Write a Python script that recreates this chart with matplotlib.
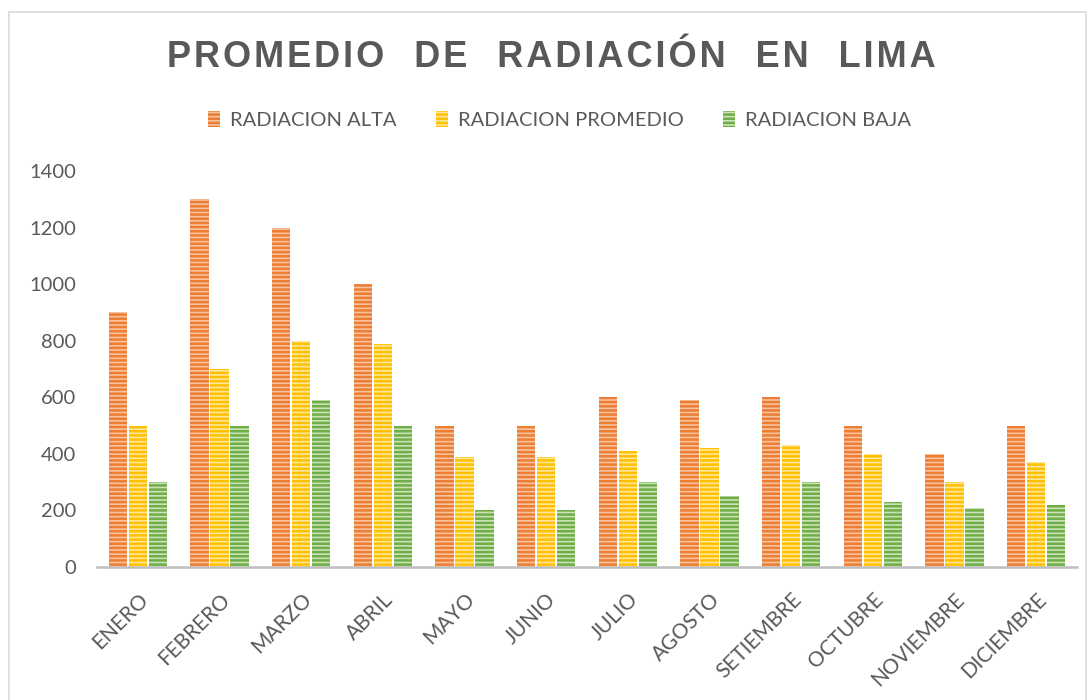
import numpy as np
import matplotlib
matplotlib.use("Agg")
import matplotlib.pyplot as plt
from matplotlib.patches import Patch, Rectangle

# datos
meses = ["ENERO", "FEBRERO", "MARZO", "ABRIL", "MAYO", "JUNIO", "JULIO",
         "AGOSTO", "SETIEMBRE", "OCTUBRE", "NOVIEMBRE", "DICIEMBRE"]
rad_alta = [900, 1300, 1200, 1000, 500, 500, 600, 590, 600, 500, 400, 500]
rad_promedio = [500, 700, 800, 790, 390, 390, 410, 420, 430, 400, 300, 370]
rad_baja = [300, 500, 590, 500, 200, 200, 300, 250, 300, 230, 210, 220]
series = ["RADIACION ALTA", "RADIACION PROMEDIO", "RADIACION BAJA"]

gris = "#595959"
plt.rcParams["hatch.linewidth"] = 1.8

fig = plt.figure(figsize=(10.91, 7.0), dpi=100)
ax = fig.add_axes([0.089, 0.19, 0.898, 0.5657])

x = np.arange(len(meses))
ancho = 0.225
estilos = [("#F6C3A0", "#ED7D31"), ("#FFE69A", "#FFC000"), ("#C9E2B8", "#70AD47")]
valores = [rad_alta, rad_promedio, rad_baja]
for i, (vals, (fondo, raya)) in enumerate(zip(valores, estilos)):
    ax.bar(x + (i - 1) * 0.245, vals, ancho, facecolor=fondo, edgecolor=raya,
           linewidth=0, hatch="----")

ax.set_xlim(-0.5, len(meses) - 0.5)
ax.set_ylim(0, 1400)
ax.set_yticks(range(0, 1401, 200))
ax.tick_params(axis="y", length=0, pad=15, labelsize=14.5, labelcolor=gris)
ax.tick_params(axis="x", length=0, labelsize=15, labelcolor=gris, pad=16)
for lbl in ax.get_yticklabels():
    lbl.set_fontfamily("Lato")
ax.set_xticks(x)
ax.set_xticklabels(meses, rotation=45, ha="right", rotation_mode="anchor",
                   fontfamily="Lato")
for s in ["top", "right", "left"]:
    ax.spines[s].set_visible(False)
ax.spines["bottom"].set_color("#BFBFBF")
ax.spines["bottom"].set_linewidth(1.8)

# leyenda
handles = [Patch(facecolor=f, edgecolor=r, linewidth=0, hatch="----") for f, r in estilos]
fig.legend(handles, series, loc="center", bbox_to_anchor=(0.513, 0.829), ncol=3,
           frameon=False, prop={"family": "Lato", "size": 14.5}, labelcolor=gris,
           handlelength=0.6, handleheight=0.9, handletextpad=0.5, columnspacing=1.95)

# titulo con espaciado entre letras
titulo = "PROMEDIO DE RADIACIÓN EN LIMA"
titulo_esp = "\u200a".join(titulo).replace("\u200a \u200a", "   ")
fig.text(0.505, 0.918, titulo_esp, ha="center", va="center", fontsize=26,
         fontweight="bold", color=gris, family=["Liberation Sans", "DejaVu Sans"])

# borde del grafico
fig.patches.append(Rectangle((0.008, -0.01), 0.987, 0.993, transform=fig.transFigure,
                             fill=False, edgecolor="#D9D9D9", linewidth=1.2))

fig.savefig("out.png", dpi=100)
